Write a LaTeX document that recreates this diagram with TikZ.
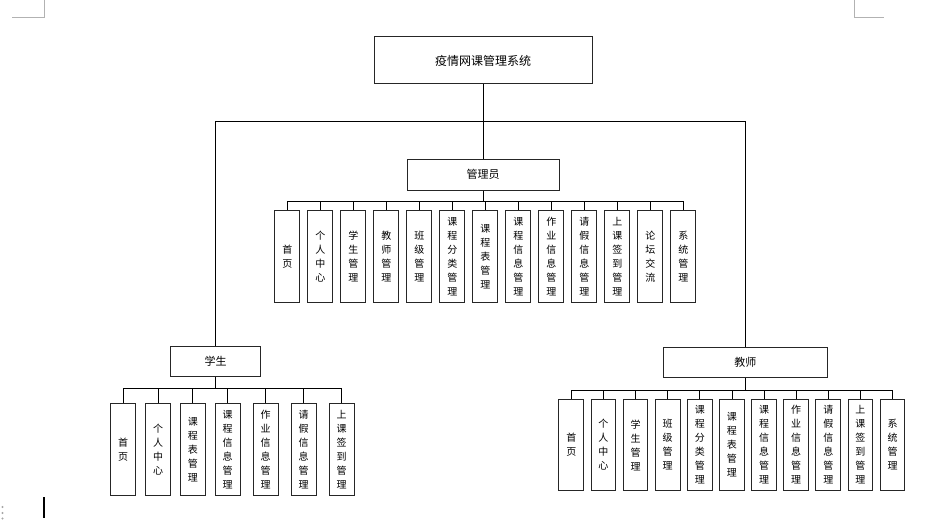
\documentclass[tikz,border=0pt]{standalone}
\usepackage{fontspec}
\setmainfont{Noto Sans CJK SC}
\begin{document}
\begin{tikzpicture}[x=1pt,y=-1pt,
  box/.style={draw=black!85,line width=1pt,fill=white,inner sep=0pt,align=center},
  topbox/.style={box,minimum width=218pt,minimum height=47pt,font=\fontsize{12}{14}\selectfont},
  rolebox/.style={box,minimum height=30.5pt,font=\fontsize{11}{13}\selectfont},
  leaf/.style={box,minimum width=25pt,minimum height=91.5pt,font=\fontsize{10}{14}\selectfont},
  conn/.style={draw=black,line width=0.8pt},
  cornermark/.style={draw=black!30,line width=0.6pt}]
\useasboundingbox (0,0) rectangle (951,524);
% page corner marks, cursor and dots
\draw[cornermark] (12,17) -- (44,17) -- (44,0);
\draw[cornermark] (854,0) -- (854,17) -- (884,17);
\draw[line width=2pt] (43.5,497) -- (43.5,518);
\foreach \yy in {507,513,518.5} \fill[black!35] (2.5,\yy) circle (1.1pt);
% top
\node[topbox] (root) at (483,60.5) {疫情网课管理系统};
\node[rolebox,minimum width=152pt] (adm) at (483,174.8) {管理员};
\node[rolebox,minimum width=90pt] (stu) at (215.7,361.7) {学生};
\node[rolebox,minimum width=164pt] (tea) at (745.3,362.5) {教师};
\coordinate (tb) at (483,121);
\draw[conn] (root.south) -- (tb);
\draw[conn] (tb) -- (adm.north);
\draw[conn] (tb) -| (stu.north);
\draw[conn] (tb) -| (tea.north);
% admin leaves
\coordinate (ab) at (483,201.7);
\draw[conn] (adm.south) -- (ab);
\foreach \t [count=\i] in {{首\\页},{个\\人\\中\\心},{学\\生\\管\\理},{教\\师\\管\\理},{班\\级\\管\\理},{课\\程\\分\\类\\管\\理},{课\\程\\表\\管\\理},{课\\程\\信\\息\\管\\理},{作\\业\\信\\息\\管\\理},{请\\假\\信\\息\\管\\理},{上\\课\\签\\到\\管\\理},{论\\坛\\交\\流},{系\\统\\管\\理}} {
  \node[leaf] (a\i) at ({287.3+33*(\i-1)},256.5) {\t};
  \draw[conn] (ab) -| (a\i.north);
}
% student leaves
\coordinate (sb) at (215.7,388.3);
\draw[conn] (stu.south) -- (sb);
\foreach \t/\xx [count=\i] in {{首\\页}/123.2,{个\\人\\中\\心}/158.2,{课\\程\\表\\管\\理}/192.8,{课\\程\\信\\息\\管\\理}/227.5,{作\\业\\信\\息\\管\\理}/265.5,{请\\假\\信\\息\\管\\理}/303.5,{上\\课\\签\\到\\管\\理}/341.5} {
  \node[leaf,minimum height=92pt] (s\i) at (\xx,449.3) {\t};
  \draw[conn] (sb) -| (s\i.north);
}
% teacher leaves
\coordinate (tbr) at (745.3,390);
\draw[conn] (tea.south) -- (tbr);
\foreach \t [count=\i] in {{首\\页},{个\\人\\中\\心},{学\\生\\管\\理},{班\\级\\管\\理},{课\\程\\分\\类\\管\\理},{课\\程\\表\\管\\理},{课\\程\\信\\息\\管\\理},{作\\业\\信\\息\\管\\理},{请\\假\\信\\息\\管\\理},{上\\课\\签\\到\\管\\理},{系\\统\\管\\理}} {
  \node[leaf,minimum width=24.7pt] (t\i) at ({571.3+32.13*(\i-1)},445) {\t};
  \draw[conn] (tbr) -| (t\i.north);
}
\end{tikzpicture}
\end{document}
